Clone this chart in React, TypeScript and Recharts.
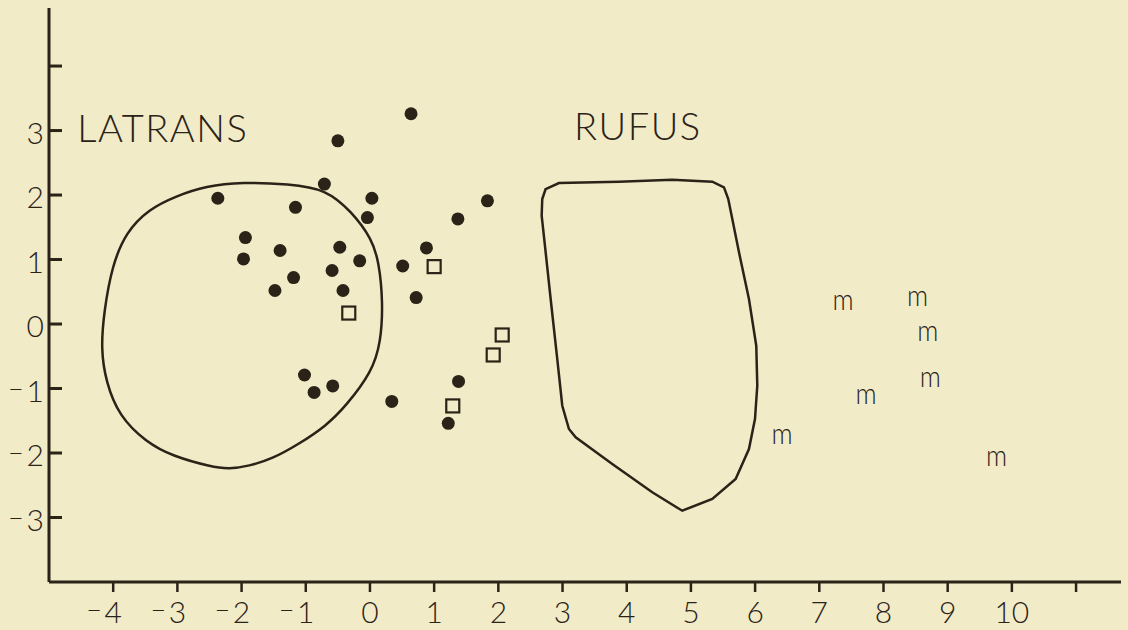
import { ScatterChart, Scatter, XAxis, YAxis } from 'recharts'

const INK = '#2b2218'
const BG = '#f1ebc7'
const FONT = "Lato, 'DejaVu Sans', sans-serif"

// axis ticks (the last one on each axis has no label)
const xTicks = [-4, -3, -2, -1, 0, 1, 2, 3, 4, 5, 6, 7, 8, 9, 10, 11]
const yTicks = [-3, -2, -1, 0, 1, 2, 3, 4]
const xBlank = [11]
const yBlank = [4]

// filled dots
const filledDots: [number, number][] = [
  [0.64, 3.26], [-0.5, 2.84], [-0.71, 2.17], [0.03, 1.95], [1.83, 1.91],
  [-2.37, 1.95], [-1.16, 1.81], [-0.04, 1.65], [1.37, 1.63], [-1.94, 1.34],
  [-1.97, 1.01], [-1.4, 1.14], [-0.47, 1.19], [-0.16, 0.98], [0.88, 1.18],
  [0.51, 0.9], [-1.19, 0.72], [-0.59, 0.83], [-1.48, 0.52], [-0.42, 0.52],
  [0.72, 0.41], [-1.02, -0.79], [-0.87, -1.06], [-0.58, -0.96], [0.34, -1.2],
  [1.38, -0.89], [1.22, -1.54],
]

// open squares
const openSquares: [number, number][] = [
  [1.0, 0.89], [-0.33, 0.17], [2.06, -0.17], [1.92, -0.48], [1.29, -1.27],
]

// "m" specimens
const mPoints: [number, number][] = [
  [7.37, 0.34], [8.53, 0.41], [8.69, -0.14], [8.73, -0.86],
  [7.73, -1.11], [6.42, -1.73], [9.76, -2.08],
]

const latransOutline: [number, number][] = [
  [-2.555, 2.14], [-1.994, 2.202], [-1.262, 2.171], [-0.685, 2.093], [-0.28, 1.736],
  [0.031, 1.318], [0.14, 0.961], [0.203, 0.341], [0.171, -0.279], [0.031, -0.744],
  [-0.374, -1.271], [-0.685, -1.581], [-1.106, -1.86], [-1.527, -2.093], [-1.885, -2.202],
  [-2.197, -2.248], [-2.461, -2.217], [-3.085, -2.047], [-3.49, -1.829], [-3.91, -1.426],
  [-4.113, -0.899], [-4.191, -0.388], [-4.144, 0.186], [-4.019, 0.899], [-3.801, 1.426],
  [-3.443, 1.783], [-3.022, 1.984],
]

const rufusOutline: [number, number][] = [
  [2.737, 2.093], [2.944, 2.186], [3.879, 2.206], [4.709, 2.237], [5.333, 2.206],
  [5.515, 2.119], [5.582, 1.938], [5.749, 1.112], [5.904, 0.388], [6.018, -0.336],
  [6.034, -0.956], [5.998, -1.473], [5.904, -1.938], [5.697, -2.403], [5.333, -2.713],
  [4.865, -2.895], [4.398, -2.609], [3.775, -2.171], [3.205, -1.757], [3.1, -1.628],
  [2.996, -1.267], [2.918, -0.543], [2.815, 0.388], [2.726, 1.214], [2.675, 1.679],
  [2.684, 1.938],
]

const groupNames = ['LATRANS', 'RUFUS']
const groupX = [-4.56, 3.18]
const groupY = [2.82, 2.85]

const pts = (arr: [number, number][]) => arr.map(([x, y]) => ({ x, y }))
const labelData = groupNames.map((name, i) => ({ x: groupX[i], y: groupY[i], name }))

const txt = { fontFamily: FONT, fontWeight: 300, fill: INK }

function XTick(props: any) {
  const { x, y, payload } = props
  const v: number = payload.value
  return (
    <g>
      <line x1={x} x2={x} y1={y} y2={y + 10} stroke={INK} strokeWidth={2.5} />
      {!xBlank.includes(v) && (
        <text x={x} y={y + 41} textAnchor="middle" fontSize={30} {...txt}>
          {String(Math.abs(v))}
        </text>
      )}
      {v < 0 && (
        <text x={x - 11} y={y + 37} textAnchor="end" fontSize={28} {...txt}>
          –
        </text>
      )}
    </g>
  )
}

function YTick(props: any) {
  const { x, y, payload } = props
  const v: number = payload.value
  return (
    <g>
      <line x1={x} x2={x + 13} y1={y} y2={y} stroke={INK} strokeWidth={3} />
      {!yBlank.includes(v) && (
        <text x={x - 5} y={y + 13} textAnchor="end" fontSize={30} {...txt}>
          {String(Math.abs(v))}
        </text>
      )}
      {v < 0 && (
        <text x={x - 25} y={y + 9} textAnchor="end" fontSize={28} {...txt}>
          –
        </text>
      )}
    </g>
  )
}

const Dot = (p: any) => <circle cx={p.cx} cy={p.cy} r={6.5} fill={INK} />
const Square = (p: any) => (
  <rect x={p.cx - 6.5} y={p.cy - 6.5} width={13} height={13} fill="none" stroke={INK} strokeWidth={2.2} />
)
const MMark = (p: any) => (
  <text transform={`translate(${p.cx},${p.cy + 8}) scale(1.05,1.15)`} textAnchor="middle" fontSize={25} {...txt}>
    m
  </text>
)
const GroupLabel = (p: any) => (
  <text x={p.cx} y={p.cy} fontSize={38} letterSpacing={1.5} {...txt}>
    {p.payload.name}
  </text>
)
const NoShape = () => <g />

export default function App() {
  return (
    <div style={{ position: 'fixed', left: 0, top: 0, width: 1128, height: 630, background: BG }}>
      <ScatterChart width={1128} height={630} margin={{ top: 8, right: 7, bottom: 8, left: 8 }}>
        <XAxis
          type="number"
          dataKey="x"
          domain={[-5, 11.7]}
          ticks={xTicks}
          interval={0}
          height={40}
          tickSize={0}
          tickMargin={0}
          tickLine={false}
          axisLine={{ stroke: INK, strokeWidth: 3 }}
          tick={<XTick />}
        />
        <YAxis
          type="number"
          dataKey="y"
          domain={[-4, 4.9]}
          ticks={yTicks}
          interval={0}
          width={41}
          tickSize={0}
          tickMargin={0}
          tickLine={false}
          axisLine={{ stroke: INK, strokeWidth: 3 }}
          tick={<YTick />}
        />
        <Scatter
          data={pts(latransOutline)}
          shape={NoShape}
          line={{ stroke: INK, strokeWidth: 2.5, fill: 'none' }}
          lineType="joint"
          lineJointType="basisClosed"
          isAnimationActive={false}
        />
        <Scatter
          data={pts(rufusOutline)}
          shape={NoShape}
          line={{ stroke: INK, strokeWidth: 2.5, fill: 'none' }}
          lineType="joint"
          lineJointType="linearClosed"
          isAnimationActive={false}
        />
        <Scatter data={pts(filledDots)} shape={Dot} isAnimationActive={false} />
        <Scatter data={pts(openSquares)} shape={Square} isAnimationActive={false} />
        <Scatter data={pts(mPoints)} shape={MMark} isAnimationActive={false} />
        <Scatter data={labelData} shape={GroupLabel} isAnimationActive={false} />
      </ScatterChart>
    </div>
  )
}
